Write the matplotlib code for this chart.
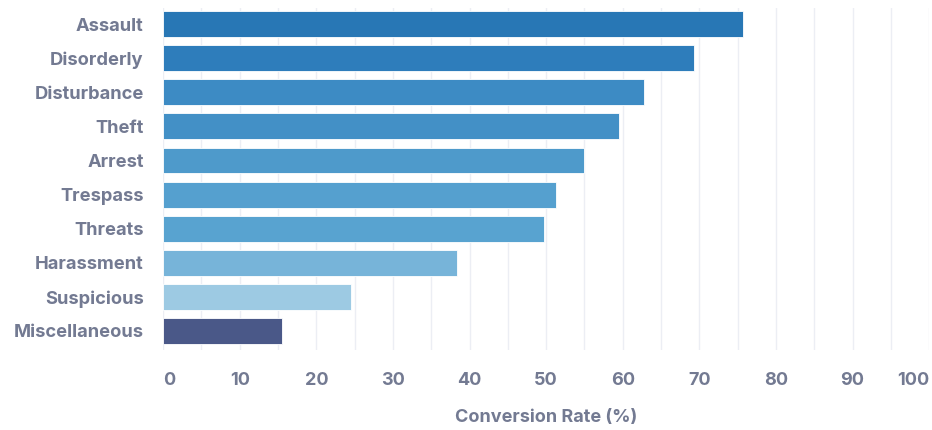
import matplotlib.pyplot as plt
from matplotlib.ticker import MultipleLocator

categories = ['Assault', 'Disorderly', 'Disturbance', 'Theft', 'Arrest',
              'Trespass', 'Threats', 'Harassment', 'Suspicious', 'Miscellaneous']
rates = [75.7, 69.3, 62.8, 59.5, 55.0, 51.3, 49.7, 38.4, 24.5, 15.5]
bar_colors = ['#2877b5', '#2e7dbb', '#3d8bc4', '#4390c6', '#4e9acb',
              '#55a0cf', '#58a3d0', '#77b4d9', '#9dcae3', '#4a5888']
x_ticks = [0, 10, 20, 30, 40, 50, 60, 70, 80, 90, 100]

plt.rcParams['font.family'] = ['Inter', 'DejaVu Sans']
text_color = '#737a92'

fig = plt.figure(figsize=(9.32, 4.30), dpi=100)
ax = fig.add_axes([0.175, 0.186, 0.822, 0.795])

ypos = list(range(len(categories)))
ax.barh(ypos, rates, height=0.76, color=bar_colors,
        edgecolor='#ffffff', linewidth=0.6, zorder=3)

ax.set_xlim(0, 100)
ax.set_ylim(len(categories) - 0.44, -0.47)
ax.xaxis.set_minor_locator(MultipleLocator(5))
ax.set_xticks(x_ticks)
ax.set_xticklabels([str(t) for t in x_ticks])
ax.set_yticks(ypos)
ax.set_yticklabels(categories)

ax.grid(axis='x', which='both', color='#eceef4', linewidth=1, zorder=0)
ax.grid(axis='y', visible=False)
for side in ax.spines.values():
    side.set_visible(False)

ax.tick_params(axis='both', which='both', length=0, colors=text_color)
ax.tick_params(axis='y', pad=14, labelsize=13.2)
ax.tick_params(axis='x', pad=16, labelsize=13)
for lbl in ax.get_xticklabels() + ax.get_yticklabels():
    lbl.set_fontweight('bold')
ax.get_xticklabels()[0].set_horizontalalignment('left')
ax.get_xticklabels()[-1].set_horizontalalignment('right')

ax.set_xlabel('Conversion Rate (%)', fontsize=13, fontweight='bold',
              color=text_color, labelpad=14)

fig.savefig('out.png', dpi=100)
